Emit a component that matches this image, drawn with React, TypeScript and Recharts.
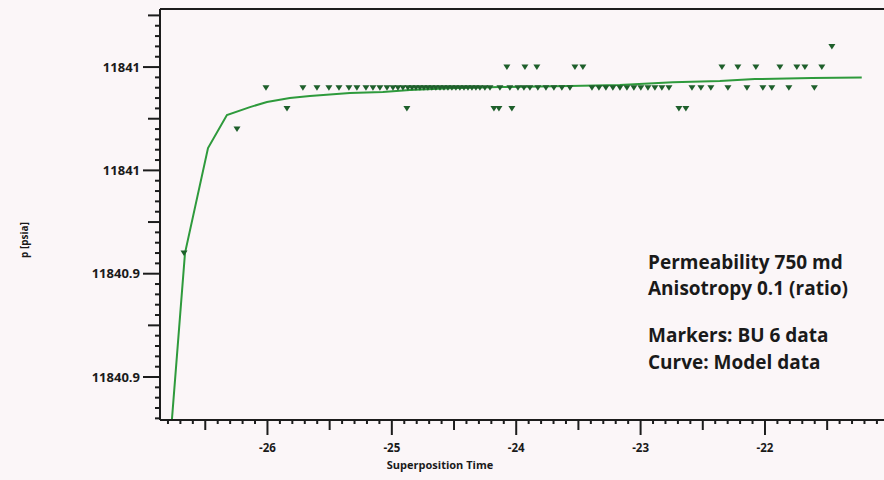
import React from 'react';
import { ComposedChart, Line, Scatter, XAxis, YAxis, ReferenceLine } from 'recharts';

// ---- Model curve (Superposition time vs pressure) ----
const curveT = [-26.768, -26.663, -26.478, -26.326, -26.141, -26.004, -25.82, -25.659, -25.337, -25.072, -24.855, -24.533, -24.131, -23.568, -23.167, -22.741, -22.363, -22.082, -21.624, -21.222];
const curveP = [11840.8295, 11840.91, 11840.9608, 11840.9768, 11840.9806, 11840.9831, 11840.985, 11840.986, 11840.9874, 11840.9879, 11840.9889, 11840.9898, 11840.9903, 11840.9908, 11840.9913, 11840.9927, 11840.9932, 11840.9942, 11840.9947, 11840.9949];

// ---- BU 6 measured data (markers) ----
const bu6T = [
  -26.671, -26.245, -26.012, -25.843,
  -25.715, -25.602, -25.506, -25.425, -25.345, -25.281, -25.208, -25.152, -25.096, -25.039,
  -24.991, -24.951, -24.911, -24.871, -24.838, -24.806, -24.774, -24.742, -24.71, -24.678,
  -24.646, -24.613, -24.581, -24.549, -24.517, -24.485, -24.453, -24.42, -24.388, -24.356,
  -24.324, -24.292, -24.252, -24.211, -24.131, -24.051, -23.986, -23.938, -23.89, -23.826,
  -23.761, -23.697, -23.633, -23.568, -23.391, -23.335, -23.279, -23.223, -23.166, -23.11,
  -23.054, -22.998, -22.941, -22.885, -22.829, -22.772, -22.587, -22.515, -22.435, -22.298,
  -22.145, -22.017, -21.945, -21.808, -21.603,
  -24.075, -23.93, -23.834, -23.528, -23.464, -22.346, -22.218, -22.073, -21.88, -21.744, -21.679, -21.543,
  -24.879, -24.179, -24.139, -24.035, -22.692, -22.636,
  -21.462,
];
const bu6P = [
  11840.91, 11840.97, 11840.99, 11840.98,
  11840.99, 11840.99, 11840.99, 11840.99, 11840.99, 11840.99, 11840.99, 11840.99, 11840.99, 11840.99,
  11840.99, 11840.99, 11840.99, 11840.99, 11840.99, 11840.99, 11840.99, 11840.99, 11840.99, 11840.99,
  11840.99, 11840.99, 11840.99, 11840.99, 11840.99, 11840.99, 11840.99, 11840.99, 11840.99, 11840.99,
  11840.99, 11840.99, 11840.99, 11840.99, 11840.99, 11840.99, 11840.99, 11840.99, 11840.99, 11840.99,
  11840.99, 11840.99, 11840.99, 11840.99, 11840.99, 11840.99, 11840.99, 11840.99, 11840.99, 11840.99,
  11840.99, 11840.99, 11840.99, 11840.99, 11840.99, 11840.99, 11840.99, 11840.99, 11840.99, 11840.99,
  11840.99, 11840.99, 11840.99, 11840.99, 11840.99,
  11841.0, 11841.0, 11841.0, 11841.0, 11841.0, 11841.0, 11841.0, 11841.0, 11841.0, 11841.0, 11841.0, 11841.0,
  11840.98, 11840.98, 11840.98, 11840.98, 11840.98, 11840.98,
  11841.01,
];

// ---- Axes ----
const X_DOMAIN: [number, number] = [-26.864, -21.043];
const Y_DOMAIN: [number, number] = [11840.8292, 11841.0281];
const xMajorValues = [-26, -25, -24, -23, -22];
const xMajorLabels = ['-26', '-25', '-24', '-23', '-22'];
const yMajorValues = [11840.85, 11840.9, 11840.95, 11841.0];
const yMajorLabels = ['11840.9', '11840.9', '11841', '11841'];
const annotationLines = ['Permeability 750 md', 'Anisotropy 0.1 (ratio)', 'Markers: BU 6 data', 'Curve: Model data'];

// minor tick positions (every 0.1 on x, every 0.005 on y)
const xTicks: number[] = [];
for (let t = -268; t <= -211; t++) xTicks.push(t / 10);
const yTicks: number[] = [];
for (let i = 0; i < 40; i++) yTicks.push(Math.round((11840.83 + i * 0.005) * 1000) / 1000);

const curveData = curveT.map((t, i) => ({ t, p: curveP[i] }));
const bu6Data = bu6T.map((t, i) => ({ t, p: bu6P[i] }));

const AXIS_COLOR = '#1c1c1c';
const BG = '#fbf6f8';
const FONT = "'Open Sans', 'DejaVu Sans', sans-serif";

const XTick = (props: any) => {
  const { x, y, payload } = props;
  const v: number = payload.value;
  const tenth = Math.round(v * 10);
  const mi = xMajorValues.findIndex((m) => Math.abs(m - v) < 1e-6);
  const len = mi >= 0 ? 15 : tenth % 5 === 0 ? 10 : 4;
  return (
    <g>
      <line x1={x} y1={y} x2={x} y2={y + len} stroke={AXIS_COLOR} strokeWidth={2} />
      {mi >= 0 && (
        <text x={x} y={y + 32} textAnchor="middle" fontFamily={FONT} fontWeight={700} fontSize={11.5} fill="#1a1a1a">
          {xMajorLabels[mi]}
        </text>
      )}
    </g>
  );
};

const YTick = (props: any) => {
  const { x, y, payload } = props;
  const v: number = payload.value;
  const idx = Math.round((v - 11840.83) / 0.005);
  const mi = yMajorValues.findIndex((m) => Math.abs(m - v) < 1e-6);
  const len = mi >= 0 ? 17 : (idx - 4) % 5 === 0 ? 12 : 5;
  return (
    <g>
      <line x1={x - len} y1={y} x2={x} y2={y} stroke={AXIS_COLOR} strokeWidth={2} />
      {mi >= 0 && (
        <text x={x - 20} y={y + 4.5} textAnchor="end" fontFamily={FONT} fontWeight={700} fontSize={13} fill="#1a1a1a">
          {yMajorLabels[mi]}
        </text>
      )}
    </g>
  );
};

const Marker = (props: any) => {
  const { cx, cy } = props;
  if (cx == null || cy == null) return null;
  return <path d={`M${cx - 3.5},${cy - 2.5} L${cx + 3.5},${cy - 2.5} L${cx},${cy + 3} Z`} fill="#1e5f2b" />;
};

export default function App() {
  return (
    <div style={{ position: 'absolute', left: 0, top: 0, width: 884, height: 480, background: BG, overflow: 'hidden' }}>
      <ComposedChart width={884} height={480} margin={{ top: 9, right: 0, bottom: 0, left: 0 }}>
        <XAxis
          dataKey="t"
          type="number"
          domain={X_DOMAIN}
          allowDataOverflow
          ticks={xTicks}
          interval={0}
          tickLine={false}
          tickSize={0}
          tickMargin={0}
          height={60}
          axisLine={{ stroke: AXIS_COLOR, strokeWidth: 2 }}
          tick={<XTick />}
        />
        <YAxis
          dataKey="p"
          type="number"
          domain={Y_DOMAIN}
          allowDataOverflow
          ticks={yTicks}
          interval={0}
          tickLine={false}
          tickSize={0}
          tickMargin={0}
          width={160}
          axisLine={{ stroke: AXIS_COLOR, strokeWidth: 2 }}
          tick={<YTick />}
        />
        <ReferenceLine y={Y_DOMAIN[1]} stroke={AXIS_COLOR} strokeWidth={2} />
        <Line
          data={curveData}
          dataKey="p"
          type="linear"
          stroke="#2e9a3c"
          strokeWidth={2}
          dot={false}
          activeDot={false}
          isAnimationActive={false}
        />
        <Scatter data={bu6Data} dataKey="p" fill="#1e5f2b" shape={<Marker />} isAnimationActive={false} />
      </ComposedChart>
      <svg width={884} height={480} style={{ position: 'absolute', left: 0, top: 0, pointerEvents: 'none' }}>
        <text x={440} y={469} textAnchor="middle" fontFamily={FONT} fontWeight={700} fontSize={11} fill="#1a1a1a">
          Superposition Time
        </text>
        <text
          x={28}
          y={240}
          textAnchor="middle"
          fontFamily={FONT}
          fontWeight={700}
          fontSize={10}
          fill="#1a1a1a"
          transform="rotate(-90 28 240)"
        >
          p [psia]
        </text>
        {annotationLines.map((s, i) => (
          <text
            key={s}
            x={648}
            y={[269, 295, 342, 369][i]}
            fontFamily={FONT}
            fontWeight={700}
            fontSize={19}
            fill="#1a1a1a"
          >
            {s}
          </text>
        ))}
      </svg>
    </div>
  );
}
